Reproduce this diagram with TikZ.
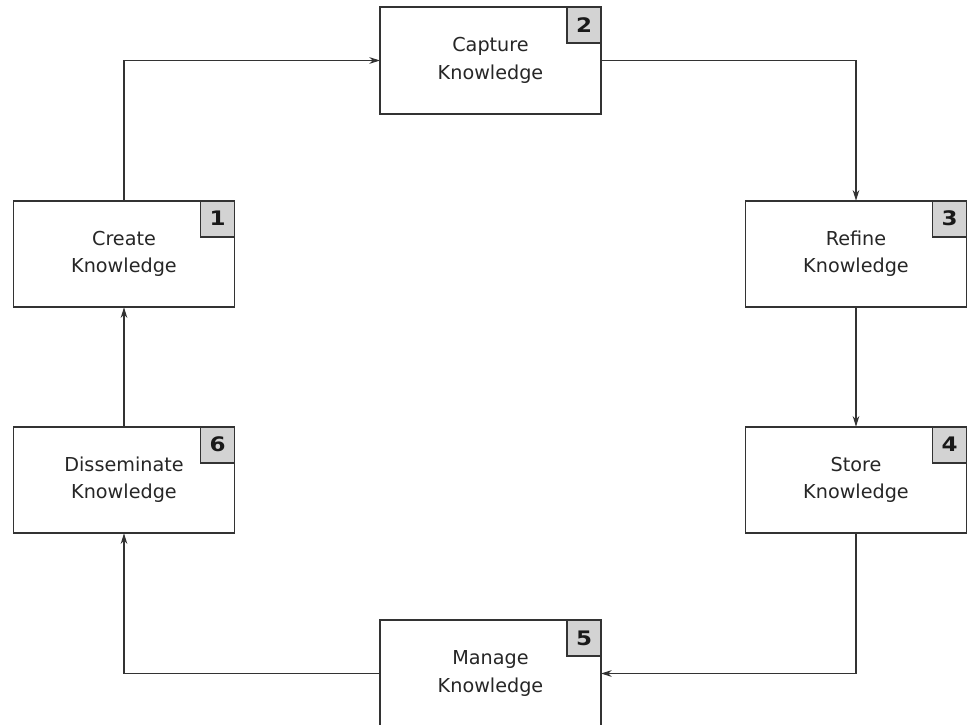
\documentclass[tikz,border=0pt]{standalone}
\usepackage{fontspec}
\setmainfont{DejaVu Sans}
\newfontfamily\numfont[FakeStretch=1.15]{DejaVu Sans}
\usetikzlibrary{arrows.meta}
\definecolor{ln}{HTML}{333333}
\definecolor{numgray}{HTML}{D3D3D3}
\begin{document}
\begin{tikzpicture}[x=0.75pt,y=-0.75pt,
  stepbox/.style={draw=ln,line width=1.3pt,fill=white,minimum width=165.75pt,minimum height=80pt,
    inner sep=0pt,outer sep=0pt,align=center,font=\fontsize{14.4}{20.5}\selectfont,text=black!85},
  numbox/.style={draw=ln,line width=1.3pt,fill=numgray,minimum width=25.5pt,minimum height=27pt,
    inner sep=0pt,outer sep=0pt,anchor=north east,font=\numfont\bfseries\fontsize{15}{16}\selectfont,text=black!90},
  arr/.style={draw=ln,line width=0.9pt,-{Stealth[length=8pt,width=5pt]}}]
\useasboundingbox (0,0) rectangle (968,725);
\node[stepbox] (b2) at (490.5,60.5) {Capture\\Knowledge};
\node[stepbox] (b1) at (124,254) {Create\\Knowledge};
\node[stepbox] (b3) at (856,254) {Refine\\Knowledge};
\node[stepbox] (b6) at (124,480) {Disseminate\\Knowledge};
\node[stepbox] (b4) at (856,480) {Store\\Knowledge};
\node[stepbox] (b5) at (490.5,673.5) {Manage\\Knowledge};
\node[numbox] (n1) at (b1.north east) {1};
\node[numbox] (n2) at (b2.north east) {2};
\node[numbox] (n3) at (b3.north east) {3};
\node[numbox] (n4) at (b4.north east) {4};
\node[numbox] (n5) at (b5.north east) {5};
\node[numbox] (n6) at (b6.north east) {6};
\draw[arr] (b1.north) |- (b2.west);
\draw[arr] (b2.east) -| (b3.north);
\draw[arr] (b3.south) -- (b4.north);
\draw[arr] (b4.south) |- (b5.east);
\draw[arr] (b5.west) -| (b6.south);
\draw[arr] (b6.north) -- (b1.south);
\end{tikzpicture}
\end{document}
